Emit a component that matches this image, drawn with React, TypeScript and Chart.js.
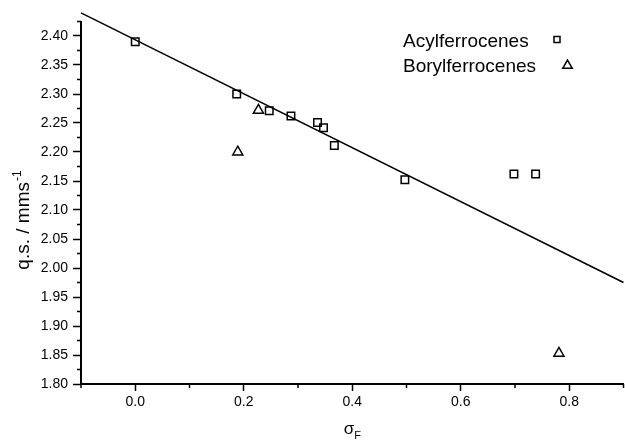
import React, { useEffect, useRef } from "react";
import { Chart, registerables } from "chart.js";

Chart.register(...registerables);

// ---- Data ----
const ACYL_X = [0.0, 0.187, 0.247, 0.287, 0.336, 0.347, 0.367, 0.497, 0.698, 0.738];
const ACYL_Y = [2.39, 2.30, 2.271, 2.262, 2.251, 2.242, 2.211, 2.152, 2.162, 2.162];
const BORYL_X = [0.189, 0.227, 0.781];
const BORYL_Y = [2.200, 2.272, 1.853];
const FIT_X = [-0.1, 0.9];
const FIT_Y = [2.44, 1.975];

const X_TICKS = [0.0, 0.2, 0.4, 0.6, 0.8];
const X_MINOR = [-0.1, 0.1, 0.3, 0.5, 0.7, 0.9];
const Y_TICKS = [1.8, 1.85, 1.9, 1.95, 2.0, 2.05, 2.1, 2.15, 2.2, 2.25, 2.3, 2.35, 2.4];
const Y_MINOR = [1.825, 1.875, 1.925, 1.975, 2.025, 2.075, 2.125, 2.175, 2.225, 2.275, 2.325, 2.375, 2.425];

const SERIES_NAMES = ["Acylferrocenes", "Borylferrocenes"];
const X_TITLE = "σ";
const X_TITLE_SUB = "F";
const Y_TITLE = "q.s. / mms";
const Y_TITLE_SUP = "-1";

const FONT = '"Liberation Sans", Arial, sans-serif';

const decorPlugin = {
  id: "decor",
  afterDraw(chart: any) {
    const ctx = chart.ctx as CanvasRenderingContext2D;
    const xs = chart.scales.x;
    const ys = chart.scales.y;
    const { left, bottom, right } = chart.chartArea;
    ctx.save();
    ctx.strokeStyle = "#000";
    ctx.lineWidth = 1.5;
    // minor ticks
    ctx.beginPath();
    for (const v of X_MINOR) {
      const px = xs.getPixelForValue(v);
      ctx.moveTo(px, bottom);
      ctx.lineTo(px, bottom + 4);
    }
    for (const v of Y_MINOR) {
      const py = ys.getPixelForValue(v);
      ctx.moveTo(left - 4, py);
      ctx.lineTo(left, py);
    }
    ctx.stroke();

    ctx.fillStyle = "#000";
    // Y title
    ctx.save();
    ctx.translate(28.5, 220);
    ctx.rotate(-Math.PI / 2);
    ctx.font = `19px ${FONT}`;
    const mainW = ctx.measureText(Y_TITLE).width;
    ctx.font = `12px ${FONT}`;
    const supW = ctx.measureText(Y_TITLE_SUP).width;
    const total = mainW + supW + 1;
    ctx.textBaseline = "alphabetic";
    ctx.textAlign = "left";
    ctx.font = `19px ${FONT}`;
    ctx.fillText(Y_TITLE, -total / 2, 0);
    ctx.font = `12px ${FONT}`;
    ctx.fillText(Y_TITLE_SUP, -total / 2 + mainW + 1, -8);
    ctx.restore();

    // X title
    const cx = (left + right) / 2;
    ctx.font = `17px ${FONT}`;
    const sW = ctx.measureText(X_TITLE).width;
    ctx.font = `11px ${FONT}`;
    const fW = ctx.measureText(X_TITLE_SUB).width;
    const tw = sW + fW;
    ctx.textAlign = "left";
    ctx.textBaseline = "alphabetic";
    ctx.font = `17px ${FONT}`;
    ctx.fillText(X_TITLE, cx - tw / 2, 434);
    ctx.font = `11px ${FONT}`;
    ctx.fillText(X_TITLE_SUB, cx - tw / 2 + sW, 439);

    // Legend
    ctx.font = `19px ${FONT}`;
    ctx.fillText(SERIES_NAMES[0], 403, 46.5);
    ctx.fillText(SERIES_NAMES[1], 403, 71.5);
    ctx.lineWidth = 1.5;
    ctx.strokeStyle = "#000";
    ctx.strokeRect(554, 36.5, 6, 6);
    const tx = 567.5, ty = 65.5, r = 5.5;
    ctx.beginPath();
    ctx.moveTo(tx, ty - r);
    ctx.lineTo(tx + r * Math.sin(Math.PI * 2 / 3), ty - r * Math.cos(Math.PI * 2 / 3));
    ctx.lineTo(tx + r * Math.sin(Math.PI * 4 / 3), ty - r * Math.cos(Math.PI * 4 / 3));
    ctx.closePath();
    ctx.stroke();
    ctx.restore();
  },
};

export default function App() {
  const ref = useRef<HTMLCanvasElement | null>(null);
  useEffect(() => {
    document.body.style.margin = "0";
    const canvas = ref.current!;
    const chart = new Chart(canvas, {
      type: "scatter",
      data: {
        datasets: [
          {
            type: "line",
            label: "fit",
            data: FIT_X.map((x, i) => ({ x, y: FIT_Y[i] })),
            borderColor: "#000",
            borderWidth: 1.5,
            pointRadius: 0,
            fill: false,
            clip: false as any,
            order: 2,
          },
          {
            label: SERIES_NAMES[0],
            data: ACYL_X.map((x, i) => ({ x, y: ACYL_Y[i] })),
            pointStyle: "rect",
            pointRadius: 5.3,
            borderColor: "#000",
            backgroundColor: "rgba(0,0,0,0)",
            borderWidth: 1.5,
            order: 1,
          },
          {
            label: SERIES_NAMES[1],
            data: BORYL_X.map((x, i) => ({ x, y: BORYL_Y[i] })),
            pointStyle: "triangle",
            pointRadius: 5.8,
            borderColor: "#000",
            backgroundColor: "rgba(0,0,0,0)",
            borderWidth: 1.5,
            order: 1,
          },
        ],
      },
      options: {
        responsive: false,
        animation: false,
        layout: { autoPadding: false, padding: { top: 21.5, right: 1.5, left: 0, bottom: 0 } },
        plugins: { legend: { display: false }, tooltip: { enabled: false } },
        scales: {
          x: {
            type: "linear",
            min: -0.1,
            max: 0.9,
            afterBuildTicks: (s: any) => {
              s.ticks = X_TICKS.map((v) => ({ value: v }));
            },
            afterFit: (s: any) => {
              s.height = 59;
            },
            ticks: {
              color: "#000",
              font: { family: FONT, size: 14 },
              padding: 3,
              maxRotation: 0,
              autoSkip: false,
              callback: (v: any) => Number(v).toFixed(1),
            },
            grid: {
              drawOnChartArea: false,
              drawTicks: true,
              tickLength: 7,
              tickColor: "#000",
              tickWidth: 1.5,
            },
            border: { display: true, color: "#000", width: 2 },
          },
          y: {
            type: "linear",
            min: 1.8,
            max: 2.425,
            afterBuildTicks: (s: any) => {
              s.ticks = Y_TICKS.map((v) => ({ value: v }));
            },
            afterFit: (s: any) => {
              s.width = 81;
            },
            ticks: {
              color: "#000",
              font: { family: FONT, size: 14 },
              padding: 5,
              autoSkip: false,
              callback: (v: any) => Number(v).toFixed(2),
            },
            grid: {
              drawOnChartArea: false,
              drawTicks: true,
              tickLength: 8,
              tickColor: "#000",
              tickWidth: 1.5,
            },
            border: { display: true, color: "#000", width: 2 },
          },
        },
      },
      plugins: [decorPlugin],
    });
    return () => chart.destroy();
  }, []);
  return (
    <div style={{ width: 625, height: 443, background: "#fff" }}>
      <canvas ref={ref} width={625} height={443} style={{ display: "block", width: 625, height: 443 }} />
    </div>
  );
}
